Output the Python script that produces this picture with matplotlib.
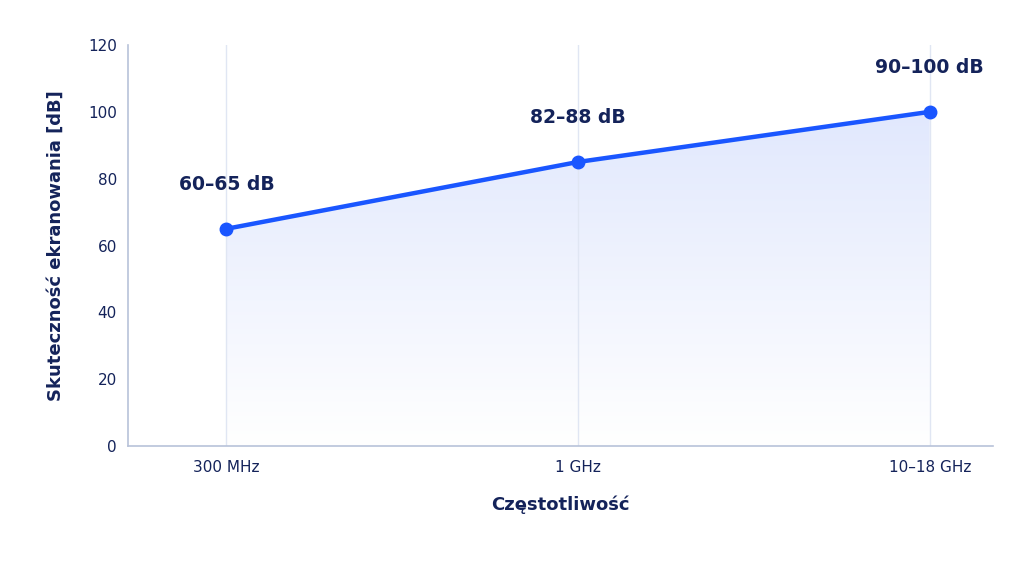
import matplotlib
matplotlib.use('Agg')
import matplotlib.pyplot as plt
import numpy as np
from matplotlib.patches import Polygon

# ── Data ──────────────────────────────────────────────────────────────────────
freq_labels = ['300 MHz', '1 GHz', '10–18 GHz']
shielding   = [65, 85, 100]
range_text  = ['60–65 dB', '82–88 dB', '90–100 dB']

NAVY  = '#14235a'
BLUE  = '#1a56ff'
SPINE = '#b8c2d9'

# ── Figure ────────────────────────────────────────────────────────────────────
fig = plt.figure(figsize=(10.24, 5.61), dpi=100)
ax = fig.add_axes([128 / 1024, 1 - 446 / 561, (993 - 128) / 1024, (446 - 45) / 561])

x = np.arange(len(shielding))
ax.set_xlim(-0.28, 2.18)
ax.set_ylim(0, 120)

# gradient fill under the line
grad = np.linspace(0, 1, 256).reshape(-1, 1)
cmap = matplotlib.colors.LinearSegmentedColormap.from_list('g', ['#ffffff', '#e1e8fd'])
img = ax.imshow(grad, extent=[x[0], x[-1], 0, max(shielding)], origin='lower',
                aspect='auto', cmap=cmap, zorder=0.2)
poly = Polygon(list(zip(x, shielding)) + [(x[-1], 0), (x[0], 0)],
               closed=True, facecolor='none', edgecolor='none')
ax.add_patch(poly)
img.set_clip_path(poly)

ax.plot(x, shielding, color=BLUE, lw=3.2, marker='o', ms=9, zorder=3,
        solid_capstyle='round')

for xi, yi, t in zip(x, shielding, range_text):
    ax.annotate(t, (xi, yi), xytext=(0, 32), textcoords='offset points',
                ha='center', va='center', fontsize=13.5, fontweight='bold',
                color=NAVY)

ax.set_xticks(x)
ax.set_xticklabels(freq_labels)
ax.set_yticks(range(0, 121, 20))
ax.tick_params(length=0, labelsize=11, colors=NAVY, pad=8)
ax.tick_params(axis='x', pad=10)
ax.grid(axis='x', color='#e0e6f3', lw=1)
ax.set_axisbelow(True)

for s in ['top', 'right']:
    ax.spines[s].set_visible(False)
for s in ['left', 'bottom']:
    ax.spines[s].set_color(SPINE)
    ax.spines[s].set_linewidth(1.2)

ax.set_xlabel('Częstotliwość', fontsize=13, fontweight='bold', color=NAVY, labelpad=15)
ax.set_ylabel('Skuteczność ekranowania [dB]', fontsize=13, fontweight='bold',
              color=NAVY, labelpad=17)

fig.savefig('out.png', dpi=100)
